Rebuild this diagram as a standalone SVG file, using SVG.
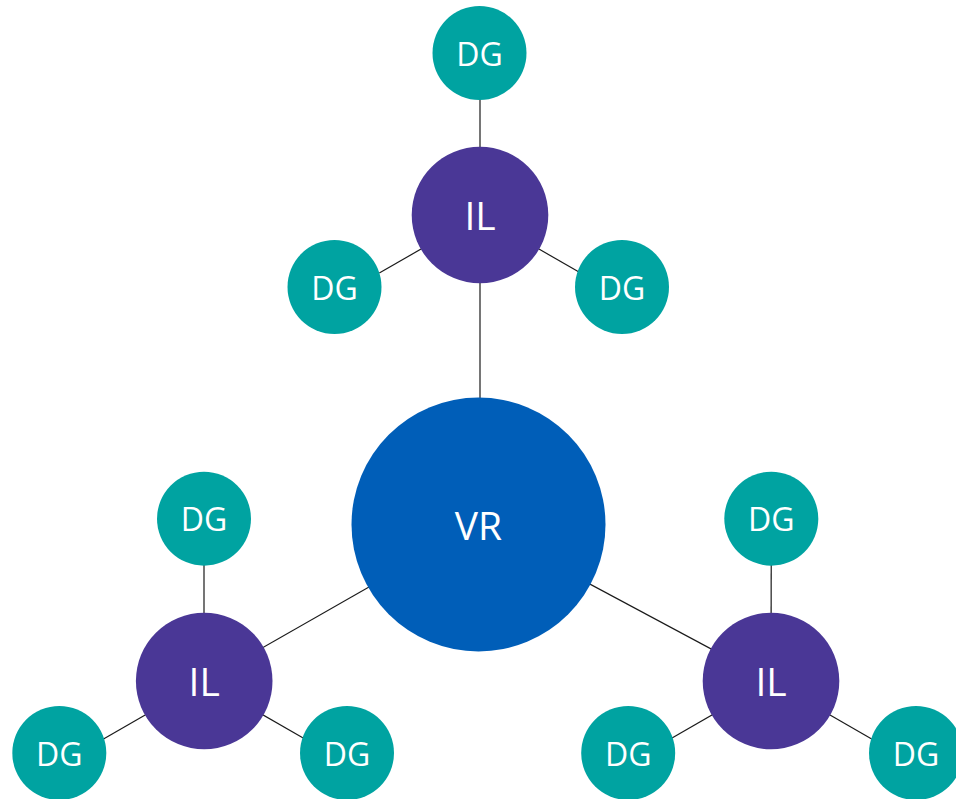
<svg xmlns="http://www.w3.org/2000/svg" width="956" height="799" viewBox="0 0 956 799">
<style>
.dg{fill:#00A3A1}
.il{fill:#4A3796}
.vr{fill:#005EB8}
.t{fill:#ffffff;font-family:"Open Sans","Noto Sans","Liberation Sans",sans-serif;text-anchor:middle}
.s{font-size:32px}
.l{font-size:39px}
.c line{stroke:#1a1a1a;stroke-width:1.2}
</style>
<rect width="956" height="799" fill="#ffffff"/>
<g id="connectors" class="c">
<line x1="480" y1="53" x2="480" y2="215"/>
<line x1="379.3" y1="273.1" x2="480" y2="215"/>
<line x1="580.7" y1="273.1" x2="480" y2="215"/>
<line x1="480" y1="215" x2="480" y2="524.5"/>
<line x1="478.5" y1="524.5" x2="204.2" y2="681"/>
<line x1="478.5" y1="524.5" x2="771" y2="681"/>
<line x1="204" y1="518.7" x2="204" y2="681"/>
<line x1="103.5" y1="739.1" x2="204.2" y2="681"/>
<line x1="304.9" y1="739.1" x2="204.2" y2="681"/>
<line x1="771.3" y1="518.7" x2="771" y2="681"/>
<line x1="670.3" y1="739.1" x2="771" y2="681"/>
<line x1="871.7" y1="739.1" x2="771" y2="681"/>
</g>
<g id="vr"><circle class="vr" cx="478.5" cy="524.5" r="127"/><text class="t l" x="478.5" y="540">VR</text></g>
<g id="il-top"><circle class="il" cx="480" cy="215" r="68.3"/><text class="t l" x="480" y="230">IL</text></g>
<g id="il-left"><circle class="il" cx="204.2" cy="681" r="68.3"/><text class="t l" x="204.2" y="696">IL</text></g>
<g id="il-right"><circle class="il" cx="771" cy="681" r="68.3"/><text class="t l" x="771" y="696">IL</text></g>
<g id="dg-top"><circle class="dg" cx="479.5" cy="53" r="47"/><text class="t s" x="479.5" y="65.5">DG</text></g>
<g id="dg-top-left"><circle class="dg" cx="334.5" cy="287" r="47"/><text class="t s" x="334.5" y="299.5">DG</text></g>
<g id="dg-top-right"><circle class="dg" cx="622" cy="287" r="47"/><text class="t s" x="622" y="299.5">DG</text></g>
<g id="dg-bl-top"><circle class="dg" cx="204" cy="518.7" r="47"/><text class="t s" x="204" y="531.2">DG</text></g>
<g id="dg-bl-left"><circle class="dg" cx="59.3" cy="753" r="47"/><text class="t s" x="59.3" y="765.5">DG</text></g>
<g id="dg-bl-right"><circle class="dg" cx="347" cy="753" r="47"/><text class="t s" x="347" y="765.5">DG</text></g>
<g id="dg-br-top"><circle class="dg" cx="771.3" cy="518.7" r="47"/><text class="t s" x="771.3" y="531.2">DG</text></g>
<g id="dg-br-left"><circle class="dg" cx="628.2" cy="753" r="47"/><text class="t s" x="628.2" y="765.5">DG</text></g>
<g id="dg-br-right"><circle class="dg" cx="916" cy="753" r="47"/><text class="t s" x="916" y="765.5">DG</text></g>
</svg>
